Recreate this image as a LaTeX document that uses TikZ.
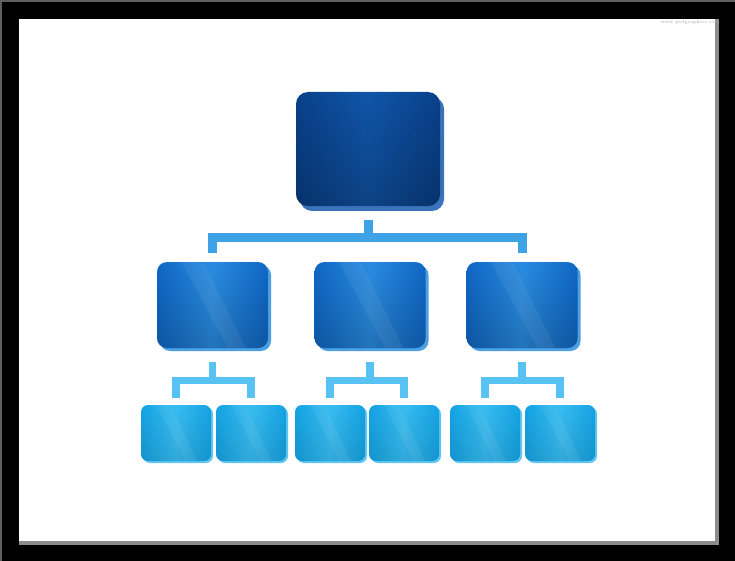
\documentclass[tikz,border=0pt]{standalone}
\usetikzlibrary{shadows,calc,fadings}
\definecolor{frameline}{HTML}{5E5E5E}
\definecolor{frameshadow}{HTML}{8C8C8C}
\definecolor{topedge}{HTML}{0A418A}
\definecolor{topmid}{HTML}{1056AA}
\definecolor{toprim}{HTML}{3A72BC}
\definecolor{midedge}{HTML}{1068C6}
\definecolor{midmid}{HTML}{2A8DE2}
\definecolor{midrim}{HTML}{4B9FE2}
\definecolor{lowedge}{HTML}{15A4E4}
\definecolor{lowmid}{HTML}{38BDF2}
\definecolor{lowrim}{HTML}{62C6F2}
\definecolor{brkA}{HTML}{3DA2E6}
\definecolor{brkB}{HTML}{58C3F2}
\tikzset{
  boxA/.style={minimum width=144pt, minimum height=114pt, inner sep=0pt, rounded corners=12pt,
    left color=topedge, right color=topedge, middle color=topmid,
    drop shadow={shadow xshift=4pt, shadow yshift=-5pt, fill=toprim, opacity=1}},
  boxB/.style={minimum width=111pt, minimum height=86pt, inner sep=0pt, rounded corners=10pt,
    left color=midedge, right color=midedge, middle color=midmid,
    drop shadow={shadow xshift=3pt, shadow yshift=-3pt, fill=midrim, opacity=1}},
  boxC/.style={minimum width=70pt, minimum height=56pt, inner sep=0pt, rounded corners=7pt,
    left color=lowedge, right color=lowedge, middle color=lowmid,
    drop shadow={shadow xshift=2pt, shadow yshift=-2pt, fill=lowrim, opacity=1}},
  connA/.style={draw=brkA, line width=9pt, line join=miter},
  connB/.style={draw=brkB, line width=7.5pt, line join=miter},
}
\begin{document}
\begin{tikzpicture}[x=1pt,y=-1pt]
\useasboundingbox (0,0) rectangle (735,561);
% frame
\fill[black] (0,0) rectangle (735,561);
\fill[frameline] (0,0) rectangle (2,561);
\fill[frameline] (0,0) rectangle (735,2);
\fill[frameshadow] (19,19) rectangle (719,545);
\fill[white] (19,19) rectangle (715,541);
\node[font=\fontsize{4.5}{5}\selectfont, text=black!35, inner sep=0pt] (wm) at (690,22.5) {www.psdgraphics.com};

% boxes
\node[boxA] (top) at (368,149) {};
\node[boxB] (ma) at (212.5,305) {};
\node[boxB] (mb) at (370,305) {};
\node[boxB] (mc) at (522,305) {};
\node[boxC] (la) at (176,433) {};
\node[boxC] (lb) at (251,433) {};
\node[boxC] (lc) at (330,433) {};
\node[boxC] (ld) at (404,433) {};
\node[boxC] (le) at (485,433) {};
\node[boxC] (lf) at (560,433) {};

% darken bottoms and glossy streaks
\foreach \n/\r/\o in {top/12/0.22,ma/10/0.18,mb/10/0.18,mc/10/0.18,la/7/0.10,lb/7/0.10,lc/7/0.10,ld/7/0.10,le/7/0.10,lf/7/0.10}{
  \path[fill=black, fill opacity=\o, path fading=north, rounded corners=\r pt]
    (\n.north west) rectangle (\n.south east);
}
\foreach \n in {ma,mb,mc,la,lb,lc,ld,le,lf}{
  \begin{scope}
    \clip (\n.north west) rectangle (\n.south east);
    \fill[white, fill opacity=0.06]
      ($(\n.north west)!0.22!(\n.north east)$) -- ($(\n.north west)!0.42!(\n.north east)$)
      -- ($(\n.south west)!0.80!(\n.south east)$) -- ($(\n.south west)!0.64!(\n.south east)$) -- cycle;
  \end{scope}
}

% top bracket
\coordinate (barA) at (368,237.5);
\draw[connA] ($(top.south)+(0,14)$) -- (barA);
\draw[connA] ($(ma.north)+(0,-9)$) |- (barA) -| ($(mc.north)+(0,-9)$);

% lower brackets
\coordinate (barB1) at (212.5,380.5);
\coordinate (barB2) at (370,380.5);
\coordinate (barB3) at (522,380.5);
\draw[connB] ($(ma.south)+(0,14)$) -- (barB1);
\draw[connB] ($(la.north)+(0,-7)$) |- (barB1) -| ($(lb.north)+(0,-7)$);
\draw[connB] ($(mb.south)+(0,14)$) -- (barB2);
\draw[connB] ($(lc.north)+(0,-7)$) |- (barB2) -| ($(ld.north)+(0,-7)$);
\draw[connB] ($(mc.south)+(0,14)$) -- (barB3);
\draw[connB] ($(le.north)+(0,-7)$) |- (barB3) -| ($(lf.north)+(0,-7)$);
\end{tikzpicture}
\end{document}
